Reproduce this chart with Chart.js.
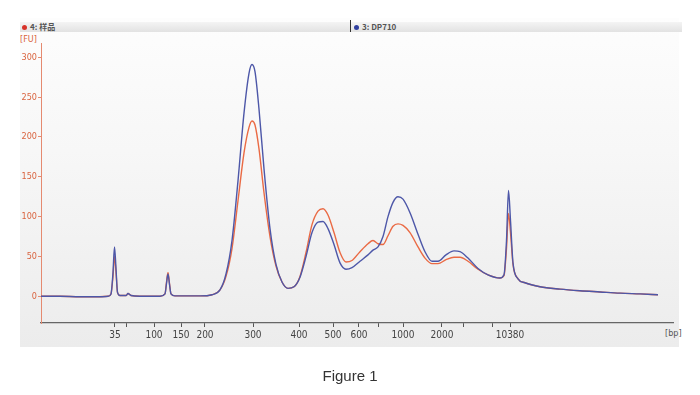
<!DOCTYPE html>
<html>
<head>
<meta charset="utf-8">
<script src="https://cdn.jsdelivr.net/npm/chart.js@4.4.1/dist/chart.umd.min.js"></script>
<style>
  html, body { margin: 0; padding: 0; background: #fff; }
  #wrap { position: relative; width: 700px; height: 395px; overflow: hidden; }
  #panel { position: absolute; left: 20px; top: 18px; width: 659px; height: 329px;
           background: linear-gradient(#fdfdfd 0%, #f7f7f7 40%, #ececec 100%); }
  #legendbar { position: absolute; left: 20px; top: 22px; width: 662px; height: 10px;
               background: linear-gradient(#f4f4f4, #e2e2e2); }
  .leg { position: absolute; top: 21px; font: bold 8px "Noto Sans CJK SC", "DejaVu Sans", sans-serif;
         color: #555; white-space: nowrap; line-height: 12px; }
  .dot { display: inline-block; width: 5px; height: 5px; border-radius: 50%; margin-right: 3px; vertical-align: 0; }
  #sep { position: absolute; left: 350px; top: 20px; width: 1px; height: 12px; background: #333; }
  #fu { position: absolute; left: 20px; top: 34px; font: 9px "Liberation Sans Narrow", "DejaVu Sans Condensed", sans-serif; color: #d9633e; }
  #bp { position: absolute; left: 665px; top: 328px; font: 9px "Liberation Sans Narrow", "DejaVu Sans Condensed", sans-serif; color: #555; }
  #cap { position: absolute; left: 0; width: 700px; top: 367px; text-align: center;
         font: 15px "Liberation Sans", Arial, sans-serif; color: #333; }
  canvas { position: absolute; left: 0; top: 0; }
</style>
</head>
<body>
<div id="wrap">
  <div id="panel"></div>
  <div id="legendbar"></div>
  <div class="leg" style="left:22px"><span class="dot" style="background:#d7332a"></span>4: 样品</div>
  <div id="sep"></div>
  <div class="leg" style="left:354px"><span class="dot" style="background:#2f3f9e"></span>3: DP710</div>
  <div id="fu">[FU]</div>
  <div id="bp">[bp]</div>
  <canvas id="myChart" width="700" height="395"></canvas>
  <div id="cap">Figure 1</div>
</div>
<script>
// migration time (s) and fluorescence (FU)
const times = [17.0, 18.9, 20.9, 22.9, 23.7, 24.0, 24.2, 24.35, 24.5, 24.65, 24.9, 25.5, 25.7, 26.0, 26.9,
  28.9, 29.4, 29.55, 29.7, 29.85, 30.0, 30.4, 32.9, 34.1, 34.9, 35.5, 36.1, 36.7, 37.3, 37.8, 38.1, 38.4,
  38.8, 39.3, 39.9, 40.5, 41.1, 41.7, 42.3, 42.9, 43.5, 44.1, 44.7, 45.2, 45.7, 46.3, 46.9, 47.5, 48.1,
  48.9, 49.7, 50.2, 50.7, 51.2, 51.7, 52.2, 52.7, 53.2, 53.9, 54.7, 55.4, 56.1, 56.7, 57.5, 58.3, 58.9,
  59.7, 60.7, 61.7, 62.9, 63.3, 63.55, 63.75, 63.95, 64.2, 64.7, 65.4, 66.9, 68.9, 70.9, 72.9, 74.9, 76.9, 78.7];

const sampleFU = [0, 0, -0.5, -0.5, 0, 3, 25, 50, 30, 5, 1, 1, 3.5, 1, 0,
  0, 3, 18, 30, 16, 3, 0.5, 0.5, 2, 8, 25, 60, 120, 180, 212, 220, 215,
  185, 130, 75, 38, 18, 10, 12, 25, 55, 90, 107, 110, 102, 80, 55, 43, 45,
  56, 66, 70, 66, 65, 76, 88, 91, 89, 80, 62, 48, 41, 41, 46, 49, 49,
  44, 34, 27, 23, 26, 60, 104, 80, 40, 22, 17, 12, 9, 7, 5.5, 4, 3, 2];

const dp710FU = [0, 0, -0.5, -0.5, 0, 3, 30, 62, 35, 5, 1, 1, 3.5, 1, 0,
  0, 3, 16, 28, 15, 3, 0.5, 0.5, 2, 8, 28, 70, 145, 230, 280, 291, 282,
  235, 160, 85, 40, 18, 10, 12, 24, 50, 80, 93, 94, 85, 65, 42, 34, 36,
  44, 52, 58, 62, 75, 100, 118, 125, 122, 105, 78, 56, 44, 44, 52, 57, 56,
  48, 35, 27, 23, 27, 70, 133, 95, 42, 22, 17, 12, 9, 7, 5.5, 4, 3, 2];

// ladder ticks on the time axis
const bpTickTimes = [24.4, 25.5, 28.3, 31.0, 33.4, 38.2, 42.8, 46.2, 48.8, 50.7, 53.2, 57.1, 59.2, 62.1, 63.9];
const bpTickLabels = ['35', '', '100', '150', '200', '300', '400', '500', '600', '', '1000', '2000', '', '', '10380'];
const fuTicks = [0, 50, 100, 150, 200, 250, 300];

const toPts = (ys) => times.map((t, i) => ({ x: t, y: ys[i] }));
const narrow = "'Liberation Sans Narrow', 'DejaVu Sans Condensed', sans-serif";

new Chart(document.getElementById('myChart'), {
  type: 'line',
  data: {
    datasets: [
      { label: '3: DP710', data: toPts(dp710FU), borderColor: '#4d57a8', borderWidth: 1.4 },
      { label: '4: 样品', data: toPts(sampleFU), borderColor: '#ea6a44', borderWidth: 1.4 }
    ]
  },
  options: {
    responsive: false,
    animation: false,
    layout: { padding: { left: 0, top: 43, right: 27, bottom: 0 } },
    elements: { point: { radius: 0 }, line: { cubicInterpolationMode: 'monotone' } },
    plugins: { legend: { display: false }, tooltip: { enabled: false } },
    scales: {
      x: {
        type: 'linear', min: 17, max: 80.2,
        afterFit: (s) => { s.height = 72; },
        afterBuildTicks: (s) => { s.ticks = bpTickTimes.map(v => ({ value: v })); },
        border: { color: '#666', width: 1.2 },
        grid: { drawOnChartArea: false, tickLength: 4, color: '#555' },
        ticks: {
          autoSkip: false, maxRotation: 0, padding: 2, color: '#444',
          font: { family: narrow, size: 10 },
          callback: (v, i) => bpTickLabels[i]
        }
      },
      y: {
        min: -33.5, max: 318,
        afterFit: (s) => { s.width = 41; },
        afterBuildTicks: (s) => { s.ticks = fuTicks.map(v => ({ value: v })); },
        border: { color: '#e58a70', width: 1 },
        grid: { drawOnChartArea: false, tickLength: 3, color: '#e58a70' },
        ticks: { padding: 1, color: '#d9633e', font: { family: narrow, size: 9 } }
      }
    }
  }
});
</script>
</body>
</html>
